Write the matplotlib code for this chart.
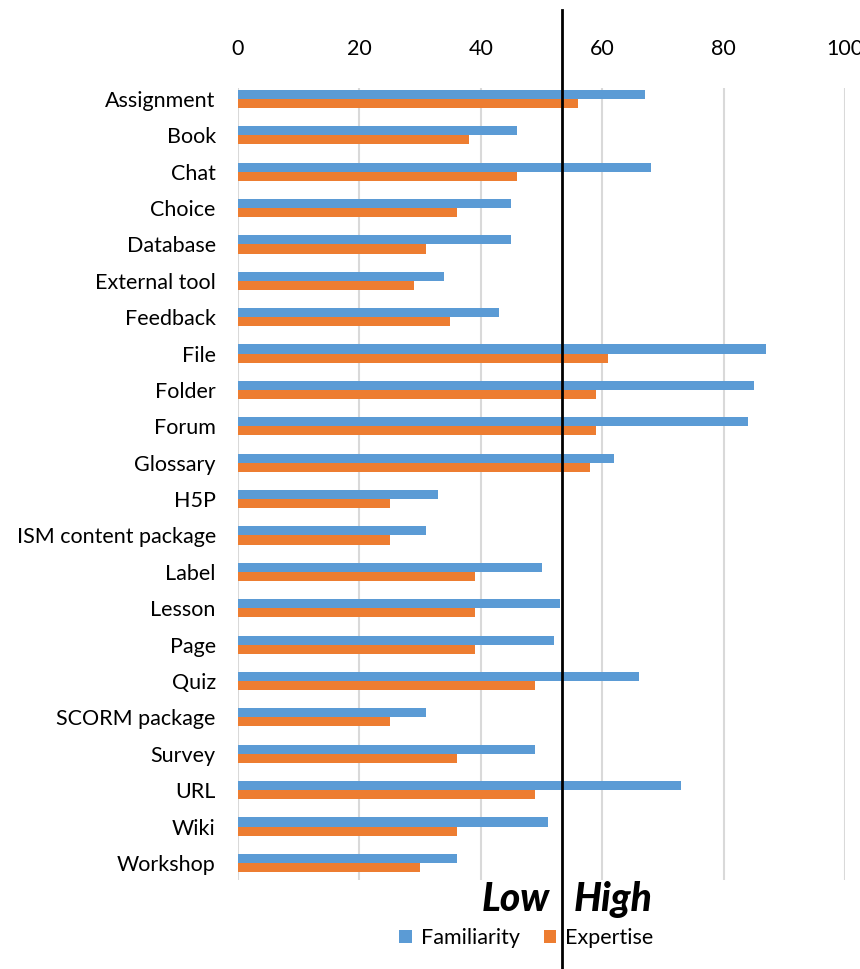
import numpy as np
import matplotlib
matplotlib.use('Agg')
import matplotlib.pyplot as plt

plt.rcParams['font.family'] = ['Lato', 'DejaVu Sans']

activities = ['Assignment', 'Book', 'Chat', 'Choice', 'Database', 'External tool',
              'Feedback', 'File', 'Folder', 'Forum', 'Glossary', 'H5P',
              'ISM content package', 'Label', 'Lesson', 'Page', 'Quiz',
              'SCORM package', 'Survey', 'URL', 'Wiki', 'Workshop']
familiarity = [67, 46, 68, 45, 45, 34, 43, 87, 85, 84, 62, 33, 31, 50, 53, 52,
               66, 31, 49, 73, 51, 36]
expertise = [56, 38, 46, 36, 31, 29, 35, 61, 59, 59, 58, 25, 25, 39, 39, 39,
             49, 25, 36, 49, 36, 30]
ticks = [0, 20, 40, 60, 80, 100]
cutoff = 53.3

BLUE = '#5B9BD5'
ORANGE = '#ED7D31'
FS = 15.5

fig = plt.figure(figsize=(8.6, 9.69), dpi=100)
ax = fig.add_axes([238 / 860, 89 / 969, 607 / 860, 792 / 969])

y = np.arange(len(activities))
h = 0.25
ax.barh(y - h / 2, familiarity, height=h, color=BLUE, label='Familiarity', zorder=2)
ax.barh(y + h / 2, expertise, height=h, color=ORANGE, label='Expertise', zorder=2)

ax.set_xlim(0, 100)
ax.set_ylim(21.47, -0.3)
ax.set_yticks(y)
ax.set_yticklabels(activities, fontsize=FS)
ax.set_xticks(ticks)
ax.xaxis.tick_top()
ax.tick_params(axis='x', length=0, pad=21, labelsize=FS)
ax.tick_params(axis='y', length=0, pad=16)
ax.grid(axis='x', color='#d9d9d9', lw=1.5, zorder=0)
for s in ax.spines.values():
    s.set_visible(False)

# threshold line running past the plot area
ax.axvline(cutoff, ymin=-0.112, ymax=1.098, color='black', lw=2, clip_on=False, zorder=3)

ax.text(cutoff - 2, -0.025, 'Low', transform=ax.get_xaxis_transform(),
        ha='right', va='center', fontsize=28, fontweight='black', style='italic')
ax.text(cutoff + 2, -0.025, 'High', transform=ax.get_xaxis_transform(),
        ha='left', va='center', fontsize=28, fontweight='black', style='italic')

ax.legend(loc='upper center', bbox_to_anchor=(0.475, -0.05), ncol=2, frameon=False,
          fontsize=FS, handlelength=0.6, handleheight=0.6, handletextpad=0.4,
          columnspacing=1.1, borderaxespad=0)

fig.savefig('out.png', dpi=100)
